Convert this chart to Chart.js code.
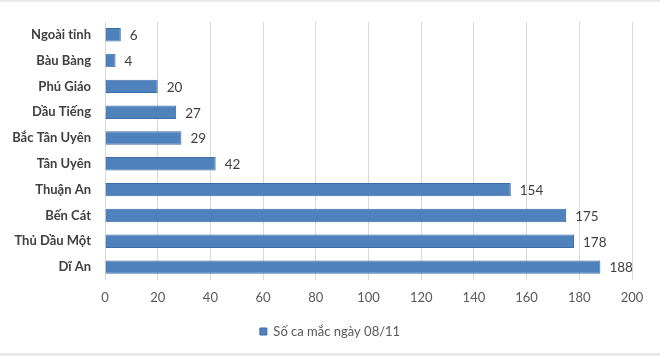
<!DOCTYPE html>
<html>
<head>
<meta charset="utf-8">
<script src="https://cdn.jsdelivr.net/npm/chart.js@4/dist/chart.umd.min.js"></script>
<style>
html,body{margin:0;padding:0;background:#fff;}
#wrap{width:660px;height:356px;position:relative;}
</style>
</head>
<body>
<div id="wrap"><canvas id="c" width="660" height="356"></canvas></div>
<script>
const categories = ["Ngoài tỉnh","Bàu Bàng","Phú Giáo","Dầu Tiếng","Bắc Tân Uyên","Tân Uyên","Thuận An","Bến Cát","Thủ Dầu Một","Dĩ An"];
const values = [6,4,20,27,29,42,154,175,178,188];
const seriesName = "Số ca mắc ngày 08/11";
const xTicks = [0,20,40,60,80,100,120,140,160,180,200];

const FONT = "Lato, 'Open Sans', 'Liberation Sans', sans-serif";

const valueLabels = {
  id: 'valueLabels',
  afterDatasetsDraw(chart) {
    const ctx = chart.ctx;
    const meta = chart.getDatasetMeta(0);
    ctx.save();
    ctx.font = "13.5px " + FONT;
    ctx.fillStyle = "#404040";
    ctx.textAlign = "left";
    ctx.textBaseline = "middle";
    meta.data.forEach((bar, i) => {
      ctx.fillText(String(values[i]), bar.x + 9, bar.y + 1);
    });
    ctx.restore();
  }
};

const frame = {
  id: 'frame',
  beforeDraw(chart) {
    const ctx = chart.ctx;
    ctx.save();
    ctx.fillStyle = "#fff";
    ctx.fillRect(0, 0, chart.width, chart.height);
    ctx.fillStyle = "#e9e9e9";
    ctx.fillRect(0, 0, chart.width, 2);
    ctx.fillRect(0, 353, chart.width, 3);
    ctx.restore();
  }
};

new Chart(document.getElementById('c'), {
  type: 'bar',
  data: {
    labels: categories,
    datasets: [{
      label: seriesName,
      data: values,
      backgroundColor: "#4f81bd",
      borderColor: "#3d6caa",
      borderWidth: 1,
      categoryPercentage: 1,
      barPercentage: 0.52
    }]
  },
  options: {
    indexAxis: 'y',
    responsive: false,
    animation: false,
    layout: { padding: { top: 17, right: 0, bottom: 8, left: 0 } },
    plugins: {
      tooltip: { enabled: false },
      legend: {
        position: 'bottom',
        labels: {
          boxWidth: 7, boxHeight: 7, padding: 10,
          color: "#595959",
          font: { family: FONT, size: 13 }
        }
      }
    },
    scales: {
      x: {
        min: 0, max: 200,
        afterBuildTicks(scale) { scale.ticks = xTicks.map(v => ({ value: v })); },
        afterFit(scale) { scale.height = 35; },
        grid: { color: "#d9d9d9", drawTicks: false },
        border: { display: false },
        ticks: {
          padding: 10,
          color: "#595959",
          font: { family: FONT, size: 13 }
        }
      },
      y: {
        afterFit(scale) { scale.width = 105; },
        grid: { display: false, drawTicks: false },
        border: { display: false },
        ticks: {
          padding: 14,
          color: "#404040",
          font: { family: FONT, size: 13, weight: 'bold' }
        }
      },
      yRight: {
        type: 'category',
        position: 'right',
        labels: categories,
        afterFit(scale) { scale.width = 28; },
        grid: { display: false, drawTicks: false },
        border: { display: false },
        ticks: { display: false }
      }
    }
  },
  plugins: [frame, valueLabels]
});
</script>
</body>
</html>
